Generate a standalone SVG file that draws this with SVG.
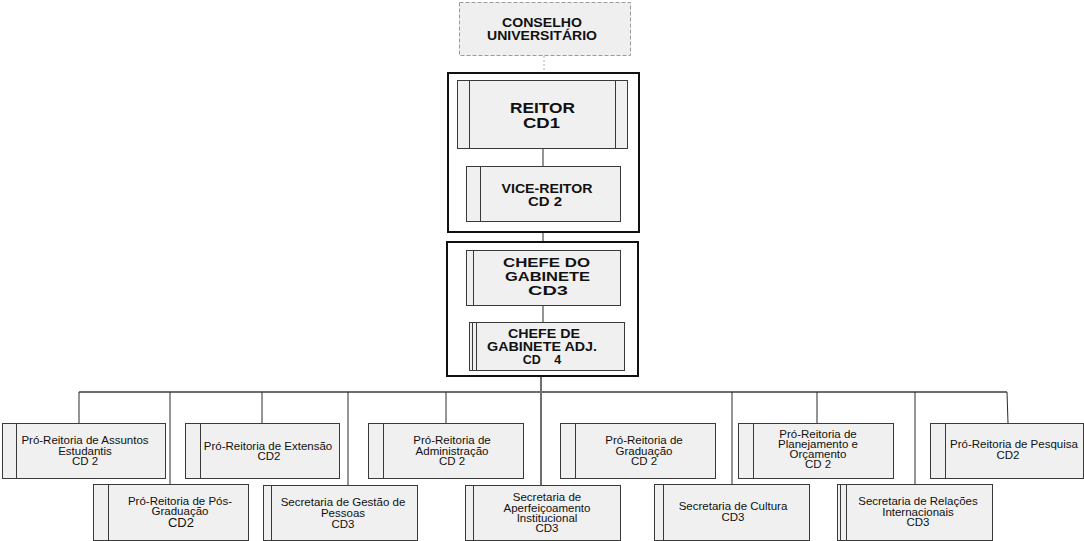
<svg xmlns="http://www.w3.org/2000/svg" width="1084" height="541" viewBox="0 0 1084 541">
  <style>
    .box { fill: #f0f0f0; stroke: #3a3a3a; stroke-width: 1; }
    .bar { fill: none; stroke: #3a3a3a; stroke-width: 1; }
    .group { fill: none; stroke: #111; stroke-width: 2; }
    .council { fill: #efefef; stroke: #9a9a9a; stroke-width: 1; stroke-dasharray: 4 2; }
    .link { fill: none; stroke: #2a2a2a; stroke-width: 1; }
    .trunk { fill: none; stroke: #6e6e6e; stroke-width: 2; }
    .dotted { fill: none; stroke: #b0b0b0; stroke-width: 1; stroke-dasharray: 2 2; }
    .hb { font-family: "Liberation Sans", Arial, sans-serif; font-weight: bold; fill: #111; text-anchor: middle; }
    .t { font-family: "Liberation Sans", Arial, sans-serif; font-size: 11.5px; fill: #111; text-anchor: middle; }
  </style>

  <!-- connectors -->
  <g id="connectors">
    <line class="dotted" x1="544" y1="56" x2="544" y2="73"/>
    <line class="link" x1="543" y1="149" x2="543" y2="166"/>
    <line class="link" x1="543" y1="232" x2="543" y2="242"/>
    <line class="link" x1="543" y1="306" x2="543" y2="322"/>
    <line class="trunk" x1="541" y1="376" x2="541" y2="485"/>
    <line class="trunk" x1="79" y1="392" x2="1007" y2="392"/>
    <line class="link" x1="79" y1="392" x2="79" y2="423"/>
    <line class="link" x1="170" y1="392" x2="170" y2="484"/>
    <line class="link" x1="262" y1="392" x2="262" y2="423"/>
    <line class="link" x1="348" y1="392" x2="348" y2="485"/>
    <line class="link" x1="446" y1="392" x2="446" y2="423"/>
    <line class="link" x1="732" y1="392" x2="732" y2="484"/>
    <line class="link" x1="817" y1="392" x2="817" y2="423"/>
    <line class="link" x1="915" y1="392" x2="915" y2="484"/>
    <line class="link" x1="1007" y1="392" x2="1008" y2="423"/>
  </g>

  <!-- council -->
  <g id="conselho">
    <rect class="council" x="459.5" y="2.5" width="171" height="53"/>
    <text class="hb" font-size="12"><tspan x="542" y="27" textLength="80" lengthAdjust="spacingAndGlyphs">CONSELHO</tspan><tspan x="542" y="40" textLength="110" lengthAdjust="spacingAndGlyphs">UNIVERSITÁRIO</tspan></text>
  </g>

  <!-- rector group frame -->
  <g id="grupo-reitoria">
    <rect class="group" x="448" y="73" width="191" height="159"/>
  </g>

  <g id="reitor">
    <rect class="box" x="457.5" y="80.5" width="170" height="68"/>
    <line class="bar" x1="469.5" y1="80.5" x2="469.5" y2="148.5"/>
    <line class="bar" x1="615.5" y1="80.5" x2="615.5" y2="148.5"/>
    <text class="hb" font-size="15.5"><tspan x="542.5" y="113" textLength="65" lengthAdjust="spacingAndGlyphs">REITOR</tspan><tspan x="541.5" y="128" textLength="37" lengthAdjust="spacingAndGlyphs">CD1</tspan></text>
  </g>

  <g id="vice-reitor">
    <rect class="box" x="466.5" y="166.5" width="154" height="55"/>
    <line class="bar" x1="480.5" y1="166.5" x2="480.5" y2="221.5"/>
    <text class="hb" font-size="12.5"><tspan x="547" y="193" textLength="91" lengthAdjust="spacingAndGlyphs">VICE-REITOR</tspan><tspan x="545" y="206" textLength="34" lengthAdjust="spacingAndGlyphs">CD 2</tspan></text>
  </g>

  <!-- cabinet group frame -->
  <g id="grupo-gabinete">
    <rect class="group" x="447" y="242" width="191" height="134"/>
    <text class="t" font-size="6" x="623" y="358">.</text>
  </g>

  <g id="chefe-gabinete">
    <rect class="box" x="466.5" y="250.5" width="154" height="55"/>
    <line class="bar" x1="473.5" y1="250.5" x2="473.5" y2="305.5"/>
    <text class="hb" font-size="13.5"><tspan x="546.5" y="267" textLength="87" lengthAdjust="spacingAndGlyphs">CHEFE DO</tspan><tspan x="547.5" y="281" textLength="85" lengthAdjust="spacingAndGlyphs">GABINETE</tspan><tspan x="548" y="295" textLength="40" lengthAdjust="spacingAndGlyphs">CD3</tspan></text>
  </g>

  <g id="chefe-gabinete-adj">
    <rect class="box" x="469.5" y="322.5" width="155" height="48"/>
    <line class="bar" x1="472.5" y1="322.5" x2="472.5" y2="370.5"/>
    <line class="bar" x1="476.5" y1="322.5" x2="476.5" y2="370.5"/>
    <text class="hb" font-size="12.5"><tspan x="544" y="338" textLength="72" lengthAdjust="spacingAndGlyphs">CHEFE DE</tspan><tspan x="542" y="351" textLength="110" lengthAdjust="spacingAndGlyphs">GABINETE ADJ.</tspan><tspan x="542" y="364" style="word-spacing:10px">CD 4</tspan></text>
  </g>

  <!-- upper row of units -->
  <g id="prae">
    <rect class="box" x="2.5" y="423.5" width="163" height="55"/>
    <line class="bar" x1="16.5" y1="423.5" x2="16.5" y2="478.5"/>
    <text class="t"><tspan x="85" y="444">Pró-Reitoria de Assuntos</tspan><tspan x="85" y="455">Estudantis</tspan><tspan x="85" y="465">CD 2</tspan></text>
  </g>

  <g id="proex">
    <rect class="box" x="185.5" y="423.5" width="154" height="55"/>
    <line class="bar" x1="200.5" y1="423.5" x2="200.5" y2="478.5"/>
    <text class="t"><tspan x="268" y="450">Pró-Reitoria de Extensão</tspan><tspan x="269" y="460">CD2</tspan></text>
  </g>

  <g id="proad">
    <rect class="box" x="368.5" y="423.5" width="155" height="55"/>
    <line class="bar" x1="383.5" y1="423.5" x2="383.5" y2="478.5"/>
    <text class="t"><tspan x="452" y="444">Pró-Reitoria de</tspan><tspan x="452" y="455">Administração</tspan><tspan x="452" y="465">CD 2</tspan></text>
  </g>

  <g id="prograd">
    <rect class="box" x="560.5" y="423.5" width="155" height="55"/>
    <line class="bar" x1="575.5" y1="423.5" x2="575.5" y2="478.5"/>
    <text class="t"><tspan x="644" y="444">Pró-Reitoria de</tspan><tspan x="644" y="455">Graduação</tspan><tspan x="644" y="465">CD 2</tspan></text>
  </g>

  <g id="proplan">
    <rect class="box" x="738.5" y="423.5" width="155" height="55"/>
    <line class="bar" x1="753.5" y1="423.5" x2="753.5" y2="478.5"/>
    <text class="t"><tspan x="818" y="438">Pró-Reitoria de</tspan><tspan x="818" y="448">Planejamento e</tspan><tspan x="818" y="458">Orçamento</tspan><tspan x="818" y="468">CD 2</tspan></text>
  </g>

  <g id="propesq">
    <rect class="box" x="930.5" y="423.5" width="153" height="55"/>
    <line class="bar" x1="945.5" y1="423.5" x2="945.5" y2="478.5"/>
    <text class="t"><tspan x="1014" y="448">Pró-Reitoria de Pesquisa</tspan><tspan x="1008" y="459">CD2</tspan></text>
  </g>

  <!-- lower row of units -->
  <g id="propg">
    <rect class="box" x="93.5" y="484.5" width="155" height="56"/>
    <line class="bar" x1="108.5" y1="484.5" x2="108.5" y2="540.5"/>
    <text class="t"><tspan x="180" y="505">Pró-Reitoria de Pós-</tspan><tspan x="180" y="515">Graduação</tspan><tspan x="181" y="527" font-size="13">CD2</tspan></text>
  </g>

  <g id="sgp">
    <rect class="box" x="263.5" y="485.5" width="154" height="55"/>
    <line class="bar" x1="271.5" y1="485.5" x2="271.5" y2="540.5"/>
    <text class="t"><tspan x="343" y="506">Secretaria de Gestão de</tspan><tspan x="343" y="517">Pessoas</tspan><tspan x="343" y="528">CD3</tspan></text>
  </g>

  <g id="sai">
    <rect class="box" x="465.5" y="485.5" width="155" height="55"/>
    <line class="bar" x1="473.5" y1="485.5" x2="473.5" y2="540.5"/>
    <text class="t"><tspan x="547" y="501">Secretaria de</tspan><tspan x="547" y="512">Aperfeiçoamento</tspan><tspan x="547" y="522">Institucional</tspan><tspan x="547" y="532">CD3</tspan></text>
  </g>

  <g id="secult">
    <rect class="box" x="654.5" y="484.5" width="155" height="56"/>
    <line class="bar" x1="663.5" y1="484.5" x2="663.5" y2="540.5"/>
    <text class="t"><tspan x="733" y="510">Secretaria de Cultura</tspan><tspan x="733" y="521">CD3</tspan></text>
  </g>

  <g id="sri">
    <rect class="box" x="837.5" y="484.5" width="155" height="56"/>
    <line class="bar" x1="840.5" y1="484.5" x2="840.5" y2="540.5"/>
    <line class="bar" x1="846.5" y1="484.5" x2="846.5" y2="540.5"/>
    <text class="t"><tspan x="918" y="505">Secretaria de Relações</tspan><tspan x="918" y="516">Internacionais</tspan><tspan x="918" y="526">CD3</tspan></text>
  </g>
</svg>
